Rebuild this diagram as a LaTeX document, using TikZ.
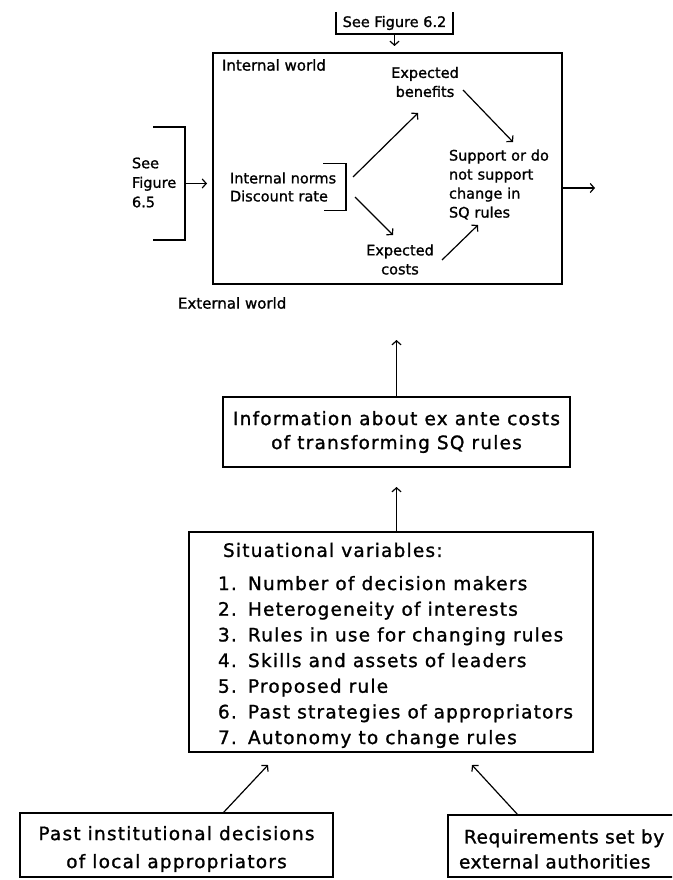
\documentclass[tikz,border=0pt]{standalone}
\usepackage{fontspec}
\setmainfont[FakeBold=1.2]{DejaVu Sans}
\newfontfamily\widefont[LetterSpace=6.5,FakeBold=1.2]{DejaVu Sans}
\newfontfamily\tightfont[LetterSpace=3,FakeBold=1.2]{DejaVu Sans}
\usetikzlibrary{arrows.meta,calc}

\begin{document}
\begin{tikzpicture}[x=1pt,y=-1pt,
  line width=1.2pt,
  every node/.style={inner sep=0pt, outer sep=0pt},
  tip/.style={-{Straight Barb[length=4pt,width=9pt]}},
  small/.style={font=\fontsize{14.5}{19}\selectfont},
  large/.style={font=\widefont\fontsize{18.5}{26}\selectfont},
  frame/.style={draw, line width=1.3pt},
]
\useasboundingbox (0,0) rectangle (672,880);
\clip (0,0) rectangle (672,880);

% ---------- decision box: internal world ----------
\node[frame, minimum width=349pt, minimum height=231pt] (world) at (387.5,168.5) {};
\node[small, anchor=west, font=\fontsize{15}{19}\selectfont] (intw) at (222,65) {Internal world};
\node[small, anchor=west, font=\fontsize{15}{19}\selectfont] (extw) at (178,303) {External world};

\node[small, align=center] (benef) at (425,82) {Expected\\benefits};
\node[small, align=center] (costs) at (400,259.5) {Expected\\costs};
\node[small, align=left, anchor=west, text width=116pt, minimum height=47pt,
      font=\fontsize{14.5}{18}\selectfont] (norms) at (230,187) {Internal norms\\Discount rate};
\node[small, align=left, anchor=west, text width=100pt] (support) at (449,184.5)
      {Support or do\\not support\\change in\\SQ rules};

% bracket to the right of the norms
\draw ([xshift=-23pt]norms.north east) -- (norms.north east) -- (norms.south east)
      -- ([xshift=-22pt]norms.south east);

% arrows inside the internal world
\draw[tip] ($(norms)+(65,-10)$) -- ($(benef)+(-7,31)$);
\draw[tip] ($(norms)+(67,10)$) -- ($(costs)+(-7,-24.5)$);
\draw[tip] ($(benef)+(38,8)$) -- ($(support)+(14,-42.5)$);
\draw[tip] ($(costs)+(42,0.5)$) -- ($(support)+(-21,40.5)$);

% outgoing arrow
\coordinate (outR) at (595,188);
\draw[tip] (world.east |- outR) -- (outR);

% ---------- references to other figures ----------
\node[small, minimum width=117pt, minimum height=22pt] (fig62) at (394.5,23) {See Figure 6.2};
\draw (fig62.north west) -- (fig62.south west) -- (fig62.south east) -- (fig62.north east);
\draw[tip, shorten >=7pt] (fig62.south) -- (fig62.south |- world.north);

\node[small, align=left, anchor=west, font=\fontsize{14.5}{19.5}\selectfont] (fig65) at (132,182.5)
      {See\\Figure\\6.5};
\node[minimum width=32pt, minimum height=113pt] (fig65brk) at (169,183.5) {};
\draw (fig65brk.north west) -- (fig65brk.north east) -- (fig65brk.south east) -- (fig65brk.south west);
\draw[tip, shorten >=6pt] (fig65brk.east) -- (fig65brk.east -| world.west);

% ---------- information box ----------
\node[frame, large, align=center, minimum width=347pt, minimum height=70pt,
      font=\widefont\fontsize{18.5}{24}\selectfont] (info) at (396.5,432)
      {Information about ex ante costs\\of transforming SQ rules};
\draw[tip, shorten >=56pt] (info.north) -- (info.north |- world.south);

% ---------- situational variables ----------
\node[frame, minimum width=404pt, minimum height=220pt] (sit) at (391,642) {};
\node[large, anchor=west] (sithead) at (223,550) {Situational variables:};
\node[large, align=left, anchor=north west, font=\widefont\fontsize{18.5}{25.67}\selectfont] (sitlist) at (218,576)
  {\makebox[30pt][l]{1.}Number of decision makers\\
   \makebox[30pt][l]{2.}Heterogeneity of interests\\
   \makebox[30pt][l]{3.}Rules in use for changing rules\\
   \makebox[30pt][l]{4.}Skills and assets of leaders\\
   \makebox[30pt][l]{5.}Proposed rule\\
   \makebox[30pt][l]{6.}Past strategies of appropriators\\
   \makebox[30pt][l]{7.}Autonomy to change rules};
\draw[tip] (sit.north -| info.north) -- ($(info.south)+(0,20)$);

% ---------- sources ----------
\node[frame, minimum width=313pt, minimum height=64pt] (past) at (176.5,845) {};
\node[large, align=center, font=\widefont\fontsize{18.5}{28}\selectfont] (pasttext) at (176.5,849)
      {Past institutional decisions\\of local appropriators};
\node[frame, minimum width=272pt, minimum height=62pt] (req) at (584,846) {};
\node[large, align=left, anchor=west, font=\tightfont\fontsize{18.5}{25}\selectfont] (reqtext) at (459,849)
      {\hspace{5pt}Requirements set by\\external authorities};

\draw[tip] ($(past.north)+(46.5,0)$) -- ($(sit.south)+(-123,13)$);
\draw[tip] ($(req.north west)+(70,0)$) -- ($(sit.south)+(81,13)$);
\end{tikzpicture}
\end{document}
